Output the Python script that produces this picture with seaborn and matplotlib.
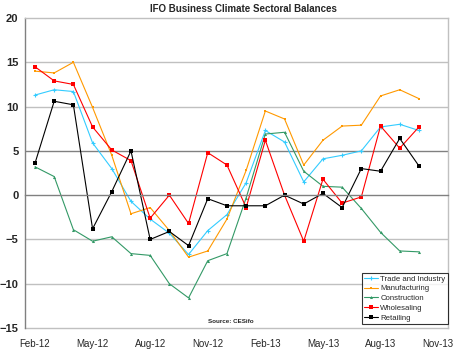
import matplotlib
matplotlib.use("Agg")
import matplotlib.pyplot as plt
import seaborn as sns
import pandas as pd

# Data
months = ['Feb-12', 'Mar-12', 'Apr-12', 'May-12', 'Jun-12', 'Jul-12', 'Aug-12',
          'Sep-12', 'Oct-12', 'Nov-12', 'Dec-12', 'Jan-13', 'Feb-13', 'Mar-13',
          'Apr-13', 'May-13', 'Jun-13', 'Jul-13', 'Aug-13', 'Sep-13', 'Oct-13', 'Nov-13']
trade = [11.3, 11.9, 11.7, 5.9, 3.0, -0.7, -2.7, -4.3, -6.7, -4.0, -2.2,
         1.4, 7.3, 6.0, 1.5, 4.1, 4.5, 5.0, 7.7, 8.0, 7.3]
manufacturing = [14.0, 13.8, 15.0, 9.9, 4.5, -2.1, -1.4, -4.0, -7.0, -6.3, -2.7,
                 2.8, 9.5, 8.6, 3.4, 6.2, 7.8, 7.9, 11.2, 11.9, 10.9]
construction = [3.2, 2.1, -3.9, -5.2, -4.7, -6.6, -6.8, -10.0, -11.6, -7.4, -6.6,
                -0.3, 6.9, 7.1, 2.7, 1.0, 0.9, -1.5, -4.2, -6.3, -6.4]
wholesaling = [14.5, 12.9, 12.5, 7.7, 5.1, 3.9, -2.6, 0.0, -3.2, 4.8, 3.4,
               -1.4, 6.2, 0.0, -5.2, 1.8, -0.9, -0.2, 7.8, 5.3, 7.7]
retailing = [3.6, 10.6, 10.2, -3.8, 0.4, 5.0, -5.0, -4.1, -5.7, -0.4, -1.2,
             -1.2, -1.2, 0.0, -1.0, 0.2, -1.4, 3.0, 2.7, 6.4, 3.3]

series = {
    'Trade and Industry': trade,
    'Manufacturing': manufacturing,
    'Construction': construction,
    'Wholesaling': wholesaling,
    'Retailing': retailing,
}
colors = {'Trade and Industry': '#33CCFF', 'Manufacturing': '#FF9900',
          'Construction': '#339966', 'Wholesaling': '#FF0000', 'Retailing': '#000000'}
markers = {'Trade and Industry': ('+', 3.5), 'Manufacturing': ('s', 2.0),
           'Construction': ('^', 2.2), 'Wholesaling': ('s', 3.5), 'Retailing': ('s', 3.5)}

sns.set_style("white")
plt.rcParams['font.family'] = ['Liberation Sans', 'DejaVu Sans']

fig = plt.figure(figsize=(4.55, 3.51), dpi=100)
ax = fig.add_axes([0.0558, 0.0655, 0.9282, 0.8832])

for name, values in series.items():
    df = pd.DataFrame({'x': range(len(values)), 'y': values})
    m, ms = markers[name]
    sns.lineplot(data=df, x='x', y='y', ax=ax, color=colors[name], linewidth=0.8,
                 marker=m, markersize=ms, markeredgewidth=0.8 if m == '+' else 0,
                 markeredgecolor=colors[name], label=name)

# Gridlines
for v in [15, 10, -5, -10]:
    ax.axhline(v, color='#c0c0c0', linewidth=1.0, zorder=0)
ax.axhline(5, color='#808080', linewidth=1.0, zorder=0)

ax.set_ylim(-15, 20)
ax.set_xlim(-0.5, 21.5)
ax.set_yticks([-15, -10, -5, 0, 5, 10, 15, 20])
ax.tick_params(axis='y', labelsize=8, length=3, width=0.8, color='#808080', pad=2)
for lbl in ax.get_yticklabels():
    lbl.set_fontweight('bold')

# x axis crossing at zero, with category boundary ticks
ax.spines['bottom'].set_position(('data', 0))
ax.spines['bottom'].set_color('#808080')
ax.spines['bottom'].set_linewidth(1.0)
ax.set_xticks([b + 0.5 for b in range(2, 21, 3)])
ax.tick_params(axis='x', direction='inout', length=6, width=0.8, color='#808080',
               labelbottom=False)
ax.spines['left'].set_color('#808080')
ax.spines['left'].set_linewidth(1.0)
for s in ['top', 'right']:
    ax.spines[s].set_color('#c0c0c0')
    ax.spines[s].set_linewidth(1.0)

sec = ax.secondary_xaxis(0.0)
sec.set_xticks(range(0, 22, 3))
sec.set_xticklabels([months[i] for i in range(0, 22, 3)])
sec.tick_params(length=0, labelsize=7, pad=8)
sec.spines['bottom'].set_color('#c0c0c0')
sec.spines['bottom'].set_linewidth(1.0)

ax.set_xlabel('')
ax.set_ylabel('')
fig.suptitle('IFO Business Climate Sectoral Balances', x=0.534, y=0.99,
             fontsize=7, fontweight='bold')

ax.text(10.2, -14.3, 'Source: CESifo', fontsize=4.5, fontweight='bold', ha='center',
        va='center')

leg = ax.legend(loc='lower right', bbox_to_anchor=(1.0, 0.013), fontsize=5.6,
                frameon=True, fancybox=False, borderaxespad=0, handlelength=1.8,
                handletextpad=0.3, labelspacing=0.3, borderpad=0.3)
leg.get_frame().set_edgecolor('#000000')
leg.get_frame().set_linewidth(0.8)

fig.savefig('out.png', dpi=100)
